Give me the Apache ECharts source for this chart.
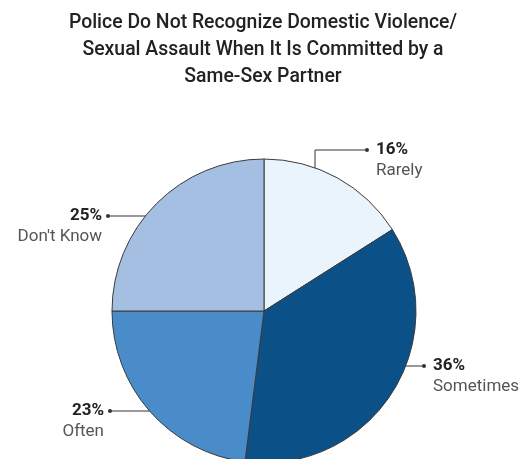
<!DOCTYPE html>
<html>
<head>
<meta charset="utf-8">
<script src="https://cdn.jsdelivr.net/npm/echarts@6/dist/echarts.min.js"></script>
<style>html,body{margin:0;padding:0;background:#fff}#c{width:526px;height:459px}</style>
</head>
<body>
<div id="c"></div>
<script>
var categories = ["Rarely", "Sometimes", "Often", "Don't Know"];
var values = [16, 36, 23, 25];
var titleText = "Police Do Not Recognize Domestic Violence/\nSexual Assault When It Is Committed by a\nSame-Sex Partner";

var palette = ["#e9f4fd", "#0b5188", "#4a8bc9", "#a4bfe2"];
// leader line layout: inner point, elbow, dot; label side
var leaders = [
  {pts: [[315, 204], [315, 150], [367, 150]], side: "right"},
  {pts: [[375, 366], [400, 366], [424, 366]], side: "right"},
  {pts: [[179, 411], [150, 411], [110, 411]], side: "left"},
  {pts: [[191, 216], [150, 216], [108, 216]], side: "left"}
];

var chart = echarts.init(document.getElementById('c'), null, {renderer: 'canvas'});
var data = categories.map(function (c, i) {
  return {name: c, value: values[i], itemStyle: {color: palette[i]}};
});
var graphics = leaders.map(function (l) {
  var d = l.pts[2];
  return {type: 'circle', shape: {cx: d[0], cy: d[1], r: 2}, style: {fill: '#333'}, z: 100};
});

chart.setOption({
  animation: false,
  title: {
    text: titleText,
    left: 'center',
    top: 5,
    textStyle: {fontFamily: 'Roboto', fontWeight: 500, fontSize: 19.4, lineHeight: 27, color: '#222'}
  },
  graphic: graphics,
  series: [{
    type: 'pie',
    center: [264, 311],
    radius: 152,
    startAngle: 90,
    clockwise: true,
    data: data,
    itemStyle: {borderColor: '#3a3a3a', borderWidth: 1},
    label: {
      show: true,
      overflow: 'none',
      width: 200,
      formatter: function (p) { return '{b|' + p.value + '%}\n{n|' + p.name + '}'; },
      rich: {
        b: {fontFamily: 'Roboto', fontWeight: 'bold', fontSize: 17, lineHeight: 21, color: '#222'},
        n: {fontFamily: 'Roboto', fontWeight: 'normal', fontSize: 17, lineHeight: 21, color: '#555'}
      }
    },
    labelLine: {show: true, lineStyle: {color: '#333', width: 1}},
    labelLayout: function (params) {
      var l = leaders[params.dataIndex];
      var d = l.pts[2];
      var right = l.side === 'right';
      return {
        x: right ? d[0] + 9 : d[0] - 6,
        y: d[1] - 10.5,
        align: right ? 'left' : 'right',
        verticalAlign: 'top',
        labelLinePoints: l.pts
      };
    }
  }]
});
</script>
</body>
</html>
